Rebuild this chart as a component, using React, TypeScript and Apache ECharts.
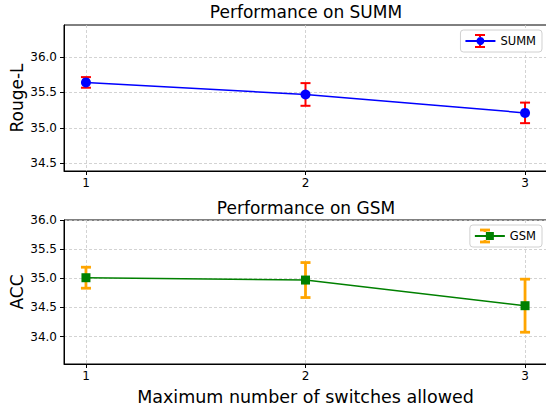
import React, { useEffect, useRef } from "react";
import * as echarts from "echarts";

const switches = [1, 2, 3];
const summMean = [35.64, 35.47, 35.21];
const summErr = [0.075, 0.16, 0.145];
const gsmMean = [35.01, 34.97, 34.53];
const gsmErr = [0.18, 0.3, 0.455];
const summTicks = [34.5, 35.0, 35.5, 36.0];
const gsmTicks = [34.0, 34.5, 35.0, 35.5, 36.0];

const FONT = "DejaVu Sans";

function errData(mean: number[], err: number[]) {
  return switches.map((x, i) => [x, mean[i] - err[i], mean[i] + err[i]]);
}

function makeErrRender(color: string, width: number) {
  return (params: any, api: any) => {
    const x = api.value(0);
    const lo = api.coord([x, api.value(1)]);
    const hi = api.coord([x, api.value(2)]);
    const cap = 5;
    const style = { stroke: color, lineWidth: width };
    return {
      type: "group",
      children: [
        { type: "line", shape: { x1: lo[0], y1: lo[1], x2: hi[0], y2: hi[1] }, style },
        { type: "line", shape: { x1: lo[0] - cap, y1: lo[1], x2: lo[0] + cap, y2: lo[1] }, style },
        { type: "line", shape: { x1: hi[0] - cap, y1: hi[1], x2: hi[0] + cap, y2: hi[1] }, style },
      ],
    };
  };
}

// error-bar glyph drawn onto the legend icon (segments above and below the marker)
function legendErr(cx: number, cy: number, half: number, inner: number, color: string, width: number) {
  const style = { stroke: color, lineWidth: width };
  return [
    { type: "line", z: 200, shape: { x1: cx, y1: cy - half, x2: cx, y2: cy - inner }, style },
    { type: "line", z: 200, shape: { x1: cx, y1: cy + inner, x2: cx, y2: cy + half }, style },
    { type: "line", z: 200, shape: { x1: cx - 5, y1: cy - half, x2: cx + 5, y2: cy - half }, style },
    { type: "line", z: 200, shape: { x1: cx - 5, y1: cy + half, x2: cx + 5, y2: cy + half }, style },
  ];
}

export default function App() {
  const ref = useRef<HTMLDivElement>(null);
  useEffect(() => {
    if (!ref.current) return;
    const chart = echarts.init(ref.current, undefined, { renderer: "svg" });
    const gridLine = { show: true, lineStyle: { color: "#c8c8c8", type: [3, 2], width: 0.8 } };
    const xAxisBase = (gridIndex: number, name: string) => ({
      type: "value",
      gridIndex,
      min: 0.9,
      max: 3.1,
      name,
      nameLocation: "middle",
      nameGap: 24,
      nameTextStyle: { fontFamily: FONT, fontSize: 17.5, color: "#000" },
      axisLine: { show: true, lineStyle: { color: "#000", width: 1 } },
      axisTick: { show: true, length: 4, customValues: switches, lineStyle: { color: "#000" } },
      axisLabel: {
        customValues: switches,
        margin: 6,
        fontFamily: FONT,
        fontSize: 12,
        color: "#000",
        formatter: (v: number) => String(Math.round(v)),
      },
      splitLine: gridLine,
    });
    const yAxisBase = (gridIndex: number, name: string, min: number, max: number, ticks: number[]) => ({
      type: "value",
      gridIndex,
      min,
      max,
      name,
      nameLocation: "middle",
      nameGap: 39,
      nameMoveOverlap: false,
      nameTextStyle: { fontFamily: FONT, fontSize: 17, color: "#000" },
      axisLine: { show: true, lineStyle: { color: "#000", width: 1 } },
      axisTick: { show: true, length: 4, customValues: ticks, lineStyle: { color: "#000" } },
      axisLabel: {
        customValues: ticks,
        margin: 7,
        fontFamily: FONT,
        fontSize: 12,
        color: "#000",
        formatter: (v: number) => v.toFixed(1),
      },
      splitLine: gridLine,
    });
    const legendBase = {
      orient: "vertical",
      itemWidth: 30,
      itemHeight: 10,
      backgroundColor: "#fff",
      borderColor: "#d0d0d0",
      borderWidth: 1,
      borderRadius: 3,
      padding: [5, 6, 5, 4],
      textStyle: { fontFamily: FONT, fontSize: 11.5, color: "#000" },
    };
    chart.setOption({
      animation: false,
      backgroundColor: "#fff",
      title: [
        { text: "Performance on SUMM", left: 306, top: 3, textAlign: "center", padding: 0,
          textStyle: { fontFamily: FONT, fontSize: 17, fontWeight: "normal", color: "#000" } },
        { text: "Performance on GSM", left: 306, top: 199, textAlign: "center", padding: 0,
          textStyle: { fontFamily: FONT, fontSize: 17, fontWeight: "normal", color: "#000" } },
      ],
      legend: [
        { ...legendBase, data: ["SUMM"], right: 4, top: 30 },
        { ...legendBase, data: ["GSM"], right: 4, top: 225 },
      ],
      graphic: [
        ...legendErr(480, 41, 6, 4, "#ff0000", 2),
        ...legendErr(485, 236, 6, 4, "#ffa500", 2.8),
      ],
      grid: [
        { left: 64, top: 25, width: 483, height: 146, show: true, borderColor: "#000", borderWidth: 1, outerBoundsMode: "none", containLabel: false },
        { left: 64, top: 220, width: 483, height: 144, show: true, borderColor: "#000", borderWidth: 1, outerBoundsMode: "none", containLabel: false },
      ],
      xAxis: [xAxisBase(0, ""), xAxisBase(1, "Maximum number of switches allowed")],
      yAxis: [
        yAxisBase(0, "Rouge-L", 34.39, 36.45, summTicks),
        yAxisBase(1, "ACC", 33.53, 36.0, gsmTicks),
      ],
      series: [
        {
          type: "custom",
          name: "SUMM-err",
          xAxisIndex: 0,
          yAxisIndex: 0,
          data: errData(summMean, summErr),
          renderItem: makeErrRender("#ff0000", 2),
          z: 2,
        },
        {
          type: "line",
          name: "SUMM",
          xAxisIndex: 0,
          yAxisIndex: 0,
          data: switches.map((x, i) => [x, summMean[i]]),
          symbol: "circle",
          symbolSize: 10,
          lineStyle: { color: "#0000ff", width: 1.5 },
          itemStyle: { color: "#0000ff" },
          z: 3,
        },
        {
          type: "custom",
          name: "GSM-err",
          xAxisIndex: 1,
          yAxisIndex: 1,
          data: errData(gsmMean, gsmErr),
          renderItem: makeErrRender("#ffa500", 2.8),
          z: 2,
        },
        {
          type: "line",
          name: "GSM",
          xAxisIndex: 1,
          yAxisIndex: 1,
          data: switches.map((x, i) => [x, gsmMean[i]]),
          symbol: "rect",
          symbolSize: 9,
          lineStyle: { color: "#008000", width: 1.5 },
          itemStyle: { color: "#008000" },
          z: 3,
        },
      ],
    });
    return () => chart.dispose();
  }, []);
  return <div ref={ref} style={{ position: "fixed", left: 0, top: 0, width: 546, height: 407 }} />;
}
